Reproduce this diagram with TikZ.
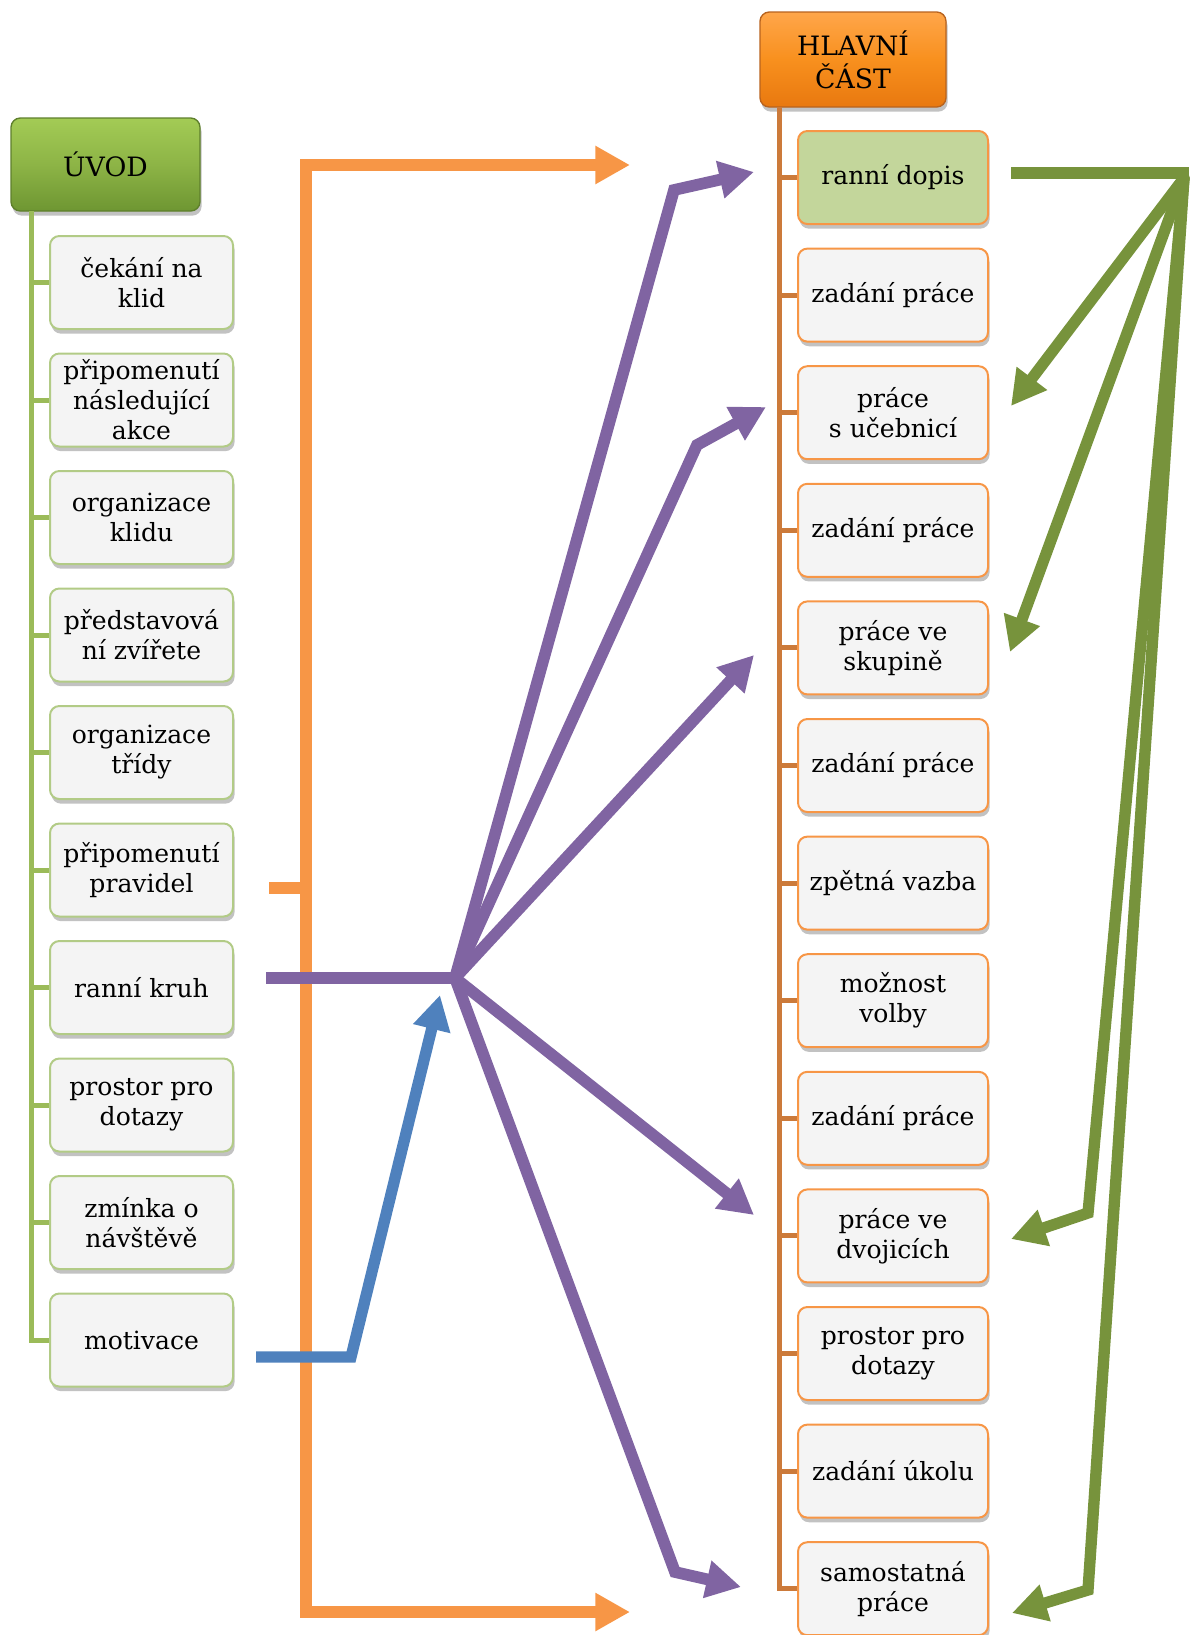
\documentclass[tikz,border=0pt]{standalone}
\usepackage{fontspec}
\setmainfont{DejaVu Serif}
\usetikzlibrary{arrows.meta,shadows}
\definecolor{cOrange}{HTML}{F79646}
\definecolor{cPurple}{HTML}{8064A2}
\definecolor{cBlue}{HTML}{4F81BD}
\definecolor{cGreen}{HTML}{77933C}
\definecolor{cLtree}{HTML}{9BBB59}
\definecolor{cRtree}{HTML}{CC7A3A}
\definecolor{cBoxFill}{HTML}{F4F4F4}
\definecolor{cLborder}{HTML}{B2CB86}
\definecolor{cRborder}{HTML}{F79646}
\definecolor{cDopis}{HTML}{C3D69B}
\definecolor{cUvTop}{HTML}{A3CB55}
\definecolor{cUvMid}{HTML}{8DB446}
\definecolor{cUvBot}{HTML}{6E9632}
\definecolor{cUvBorder}{HTML}{5E7F2C}
\definecolor{cHlTop}{HTML}{FFA64A}
\definecolor{cHlMid}{HTML}{F8901E}
\definecolor{cHlBot}{HTML}{E8780F}
\definecolor{cHlBorder}{HTML}{B8631E}
\tikzset{
  boxbase/.style={rounded corners=7pt, align=center, inner sep=2pt,
    font=\fontsize{18.8}{22.5}\selectfont,
    drop shadow={shadow xshift=1.2pt, shadow yshift=-3.5pt, opacity=0.4, fill=black!60}},
  lbox/.style={boxbase, draw=cLborder, line width=1.5pt, fill=cBoxFill,
    minimum width=137.25pt, minimum height=69.75pt},
  rbox/.style={boxbase, draw=cRborder, line width=1.5pt, fill=cBoxFill,
    minimum width=142.5pt, minimum height=69.75pt},
  uvodbox/.style={boxbase, draw=cUvBorder, line width=1pt,
    top color=cUvTop, bottom color=cUvBot, middle color=cUvMid,
    minimum width=141.75pt, minimum height=69.75pt,
    font=\fontsize{20}{24}\selectfont},
  hlavnibox/.style={boxbase, draw=cHlBorder, line width=1pt,
    top color=cHlTop, bottom color=cHlBot, middle color=cHlMid,
    minimum width=139.5pt, minimum height=71.25pt,
    font=\fontsize{20}{24.5}\selectfont},
  lefttree/.style={draw=cLtree, line width=3.75pt, line join=miter},
  righttree/.style={draw=cRtree, line width=3.75pt, line join=miter},
  bigtip/.style={-{Triangle[width=27pt,length=26pt]}},
  orangeline/.style={draw=cOrange, line width=8.5pt, line join=miter},
  purpleline/.style={draw=cPurple, line width=8.75pt, line join=miter},
  blueline/.style={draw=cBlue, line width=8.5pt, line join=miter},
  greenline/.style={draw=cGreen, line width=8.5pt, line join=miter},
}
\begin{document}
\begin{tikzpicture}[x=0.75pt,y=-0.75pt]
\useasboundingbox (0,0) rectangle (1189,1635);

% headers
\node[uvodbox] (uvod) at (105.5,164.5) {ÚVOD};
\node[hlavnibox] (hlavni) at (853,59.5) {HLAVNÍ\\ČÁST};

% left boxes
\foreach \t [count=\i from 0] in {{čekání na\\klid},{připomenutí\\následující\\akce},{organizace\\klidu},{představová\\ní zvířete},{organizace\\třídy},{připomenutí\\pravidel},{ranní kruh},{prostor pro\\dotazy},{zmínka o\\návštěvě},{motivace}}
  \node[lbox] (l\i) at (141.5,{282.5+117.5*\i}) {\t};

% right boxes
\node[rbox, fill=cDopis] (r0) at (893,177.5) {ranní dopis};
\foreach \t [count=\i from 1] in {{zadání práce},{práce\\s učebnicí},{zadání práce},{práce ve\\skupině},{zadání práce},{zpětná vazba},{možnost\\volby},{zadání práce},{práce ve\\dvojicích},{prostor pro\\dotazy},{zadání úkolu},{samostatná\\práce}}
  \node[rbox] (r\i) at (893,{177.5+117.6*\i}) {\t};

% tree lines
\coordinate (ltop) at (31.5,211);
\draw[lefttree] (ltop) |- (l9.west);
\foreach \i in {0,...,8} \draw[lefttree] (l\i.west -| ltop) -- (l\i.west);
\coordinate (rtop) at (779.5,107);
\draw[righttree] (rtop) |- (r12.west);
\foreach \i in {0,...,11} \draw[righttree] (r\i.west -| rtop) -- (r\i.west);

% orange bracket
\coordinate (otop) at (630,165);
\coordinate (obot) at (630,1612);
\coordinate (ostub) at (269,888);
\coordinate (overt) at (306,888);
\draw[orangeline, {Triangle[width=27pt,length=26pt]}-{Triangle[width=27pt,length=26pt]}]
  (otop) -- (306,165) -- (306,1612) -- (obot);
\draw[orangeline] (ostub) -- (overt);

% purple fan
\coordinate (pstart) at (266,978);
\coordinate (hub) at (455,978);
\draw[purpleline] (pstart) -- (hub);
\coordinate (pb1) at (674,190);   \coordinate (pt1) at (754,172);
\coordinate (pb2) at (697,445);   \coordinate (pt2) at (766,407);
\coordinate (pt3) at (754,655);
\coordinate (pt4) at (754,1215);
\coordinate (pb5) at (675,1572);  \coordinate (pt5) at (741,1587);
\draw[purpleline, bigtip, line cap=round] (hub) -- (pb1) -- (pt1);
\draw[purpleline, bigtip, line cap=round] (hub) -- (pb2) -- (pt2);
\draw[purpleline, bigtip, line cap=round] (hub) -- (pt3);
\draw[purpleline, bigtip, line cap=round] (hub) -- (pt4);
\draw[purpleline, bigtip, line cap=round] (hub) -- (pb5) -- (pt5);

% blue arrow
\coordinate (bstart) at (256,1357);
\coordinate (bbend) at (351,1357);
\coordinate (btip) at (440,995);
\draw[blueline, bigtip] (bstart) -- (bbend) -- (btip);

% green fan
\coordinate (gstart) at (1011,173);
\coordinate (gcorner) at (1189,173);
\coordinate (gfan) at (1184,178);
\draw[greenline] (gstart) -- (gcorner);
\coordinate (gt1) at (1011,406);
\coordinate (gt2) at (1010,652);
\coordinate (gb3) at (1088,1213); \coordinate (gt3) at (1011,1239);
\coordinate (gb4) at (1088,1590); \coordinate (gt4) at (1012,1613);
\draw[greenline, bigtip, line cap=round] (gfan) -- (gt1);
\draw[greenline, bigtip, line cap=round] (gfan) -- (gt2);
\draw[greenline, bigtip, line cap=round] (gfan) -- (gb3) -- (gt3);
\draw[greenline, bigtip, line cap=round] (gfan) -- (gb4) -- (gt4);
\end{tikzpicture}
\end{document}
